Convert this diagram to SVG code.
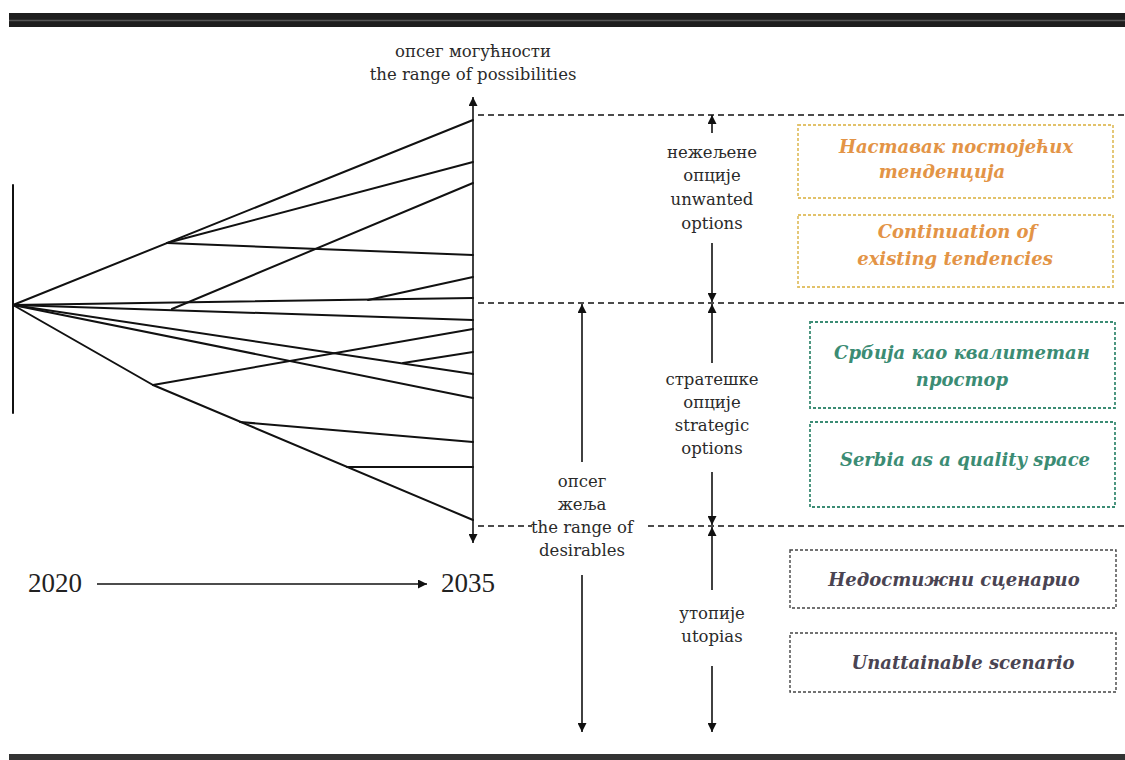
<svg xmlns="http://www.w3.org/2000/svg" width="1125" height="760" viewBox="0 0 1125 760">
<defs>
<marker id="ah" viewBox="0 0 10 10" refX="10" refY="5" markerWidth="10" markerHeight="9" markerUnits="userSpaceOnUse" orient="auto-start-reverse">
<path d="M0,0 L10,5 L0,10 z" fill="#111"/>
</marker>
<style>
.fan{stroke:#111;stroke-width:2;fill:none;stroke-linecap:round;stroke-linejoin:round}
.arr{stroke:#111;stroke-width:1.6;fill:none}
.dash{stroke:#111;stroke-width:1.6;stroke-dasharray:6 4;fill:none}
.lbl{font-family:"DejaVu Serif","Liberation Serif",serif;font-size:16.5px;fill:#2a2a2a;text-anchor:middle}
.yr{font-family:"Liberation Serif",serif;font-size:27px;fill:#222}
.bt{font-family:"DejaVu Serif",serif;font-size:18px;font-style:italic;font-weight:bold;text-anchor:middle}
.or{fill:#e39446}
.te{fill:#3b8c74}
.gr{fill:#4a4452}
.bo{fill:none;stroke:#e2c26a;stroke-width:1.8;stroke-dasharray:3 2}
.bte{fill:none;stroke:#3b8c74;stroke-width:1.8;stroke-dasharray:3 2}
.bgr{fill:none;stroke:#444;stroke-width:1.4;stroke-dasharray:3 2}
</style>
</defs>
<rect width="1125" height="760" fill="#fff"/>
<g id="frame">
<rect x="9" y="13" width="1116" height="14" fill="#1e1e1e"/>
<line x1="9" y1="20.5" x2="1125" y2="20.5" stroke="#555" stroke-width="1.5"/>
<rect x="9" y="754" width="1116" height="6" fill="#333"/>
</g>
<g id="connectors">
<line class="fan" x1="13" y1="185" x2="13" y2="413"/>
<line class="arr" x1="473" y1="97" x2="473" y2="543" marker-start="url(#ah)" marker-end="url(#ah)"/>
<path class="fan" d="M13,305 L473,120"/>
<path class="fan" d="M167,243 L473,162"/>
<path class="fan" d="M167,243 L473,255"/>
<path class="fan" d="M172,309 L473,183"/>
<path class="fan" d="M13,305 L473,298"/>
<path class="fan" d="M13,305 L473,320"/>
<path class="fan" d="M368,300 L473,277"/>
<path class="fan" d="M13,305 L473,374"/>
<path class="fan" d="M13,305 L473,398"/>
<path class="fan" d="M403,363 L473,352"/>
<path class="fan" d="M153,385 L473,329"/>
<path class="fan" d="M13,305 L153,385 L473,520"/>
<path class="fan" d="M240,422 L473,442"/>
<path class="fan" d="M347,467 L473,467"/>
<line class="dash" x1="478" y1="115" x2="1125" y2="115"/>
<line class="dash" x1="478" y1="303" x2="1125" y2="303"/>
<line class="dash" x1="478" y1="526" x2="532" y2="526"/>
<line class="dash" x1="648" y1="526" x2="1125" y2="526"/>
<line class="arr" x1="712" y1="133" x2="712" y2="115" marker-end="url(#ah)"/>
<line class="arr" x1="712" y1="243" x2="712" y2="302" marker-end="url(#ah)"/>
<line class="arr" x1="712" y1="363" x2="712" y2="304" marker-end="url(#ah)"/>
<line class="arr" x1="712" y1="472" x2="712" y2="525" marker-end="url(#ah)"/>
<line class="arr" x1="712" y1="590" x2="712" y2="527" marker-end="url(#ah)"/>
<line class="arr" x1="712" y1="666" x2="712" y2="732" marker-end="url(#ah)"/>
<line class="arr" x1="582" y1="462" x2="582" y2="304" marker-end="url(#ah)"/>
<line class="arr" x1="582" y1="575" x2="582" y2="732" marker-end="url(#ah)"/>
<line class="arr" x1="97" y1="584" x2="427" y2="584" marker-end="url(#ah)"/>
</g>
<g id="labels">
<text class="lbl" x="473" y="57">опсег могућности</text>
<text class="lbl" x="473" y="80">the range of possibilities</text>
<text class="lbl" x="712" y="158">нежељене</text>
<text class="lbl" x="712" y="181">опције</text>
<text class="lbl" x="712" y="205">unwanted</text>
<text class="lbl" x="712" y="229">options</text>
<text class="lbl" x="712" y="385">стратешке</text>
<text class="lbl" x="712" y="408">опције</text>
<text class="lbl" x="712" y="431">strategic</text>
<text class="lbl" x="712" y="454">options</text>
<text class="lbl" x="582" y="487">опсег</text>
<text class="lbl" x="582" y="510">жеља</text>
<text class="lbl" x="582" y="533">the range of</text>
<text class="lbl" x="582" y="556">desirables</text>
<text class="lbl" x="712" y="619">утопије</text>
<text class="lbl" x="712" y="642">utopias</text>
<text class="yr" x="28" y="592">2020</text>
<text class="yr" x="441" y="592">2035</text>
</g>
<g id="box-nastavak">
<rect class="bo" x="798" y="125" width="315" height="73"/>
<text class="bt or" x="956" y="153">Наставак постојећих</text>
<text class="bt or" x="942" y="178">тенденција</text>
</g>
<g id="box-continuation">
<rect class="bo" x="798" y="215" width="315" height="72"/>
<text class="bt or" x="957" y="238">Continuation of</text>
<text class="bt or" x="955" y="265">existing tendencies</text>
</g>
<g id="box-srbija">
<rect class="bte" x="810" y="322" width="305" height="86"/>
<text class="bt te" x="962" y="359">Србија као квалитетан</text>
<text class="bt te" x="962" y="386">простор</text>
</g>
<g id="box-serbia">
<rect class="bte" x="810" y="422" width="305" height="85"/>
<text class="bt te" x="965" y="466">Serbia as a quality space</text>
</g>
<g id="box-nedostizni">
<rect class="bgr" x="790" y="550" width="326" height="58"/>
<text class="bt gr" x="954" y="586">Недостижни сценарио</text>
</g>
<g id="box-unattainable">
<rect class="bgr" x="790" y="633" width="326" height="59"/>
<text class="bt gr" x="963" y="669">Unattainable scenario</text>
</g>
</svg>
